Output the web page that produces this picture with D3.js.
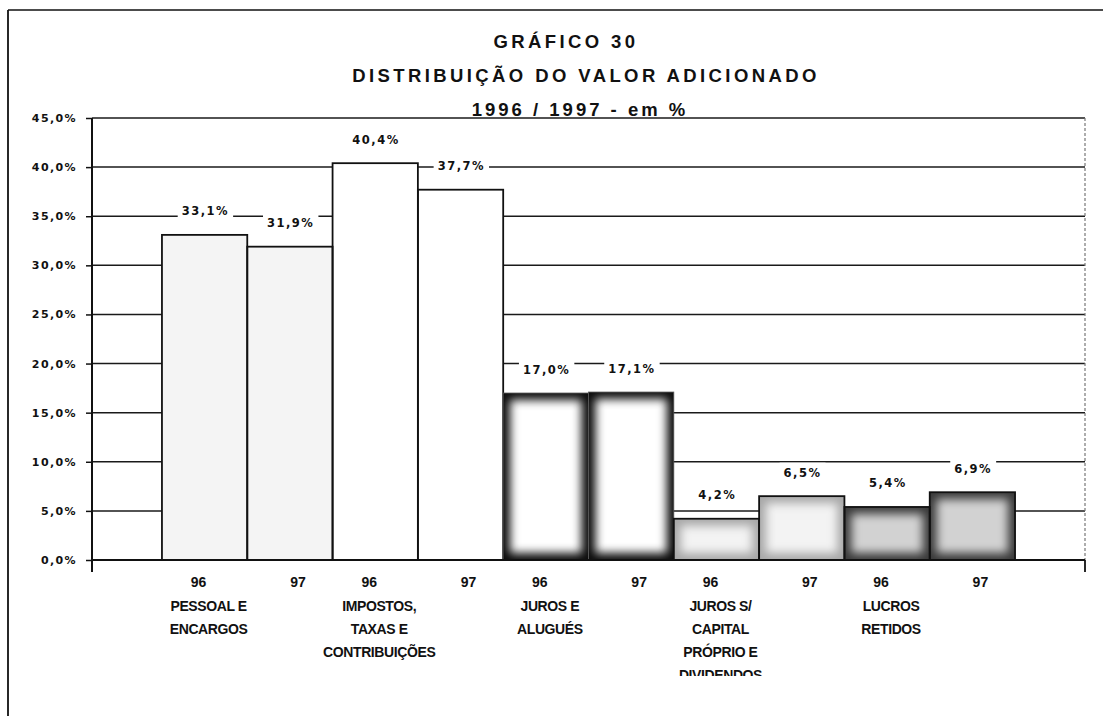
<!DOCTYPE html>
<html>
<head>
<meta charset="utf-8">
<script src="https://cdn.jsdelivr.net/npm/d3@7"></script>
<style>
  body { margin: 0; background: #fff; }
  svg { display: block; }
</style>
</head>
<body>
<svg id="chart"></svg>
<script>
const width = 1103;
const height = 716;

// data
const groupLines = [
  ["PESSOAL E", "ENCARGOS"],
  ["IMPOSTOS,", "TAXAS E", "CONTRIBUIÇÕES"],
  ["JUROS E", "ALUGUÉS"],
  ["JUROS S/", "CAPITAL", "PRÓPRIO E", "DIVIDENDOS"],
  ["LUCROS", "RETIDOS"],
];
const years = ["96", "97"];
const values96 = [33.1, 40.4, 17.0, 4.2, 5.4];
const values97 = [31.9, 37.7, 17.1, 6.5, 6.9];
const yTicks = [0, 5, 10, 15, 20, 25, 30, 35, 40, 45];
const titleLines = ["GRÁFICO 30", "DISTRIBUIÇÃO DO VALOR ADICIONADO", "1996 / 1997 - em %"];

// look of each group of bars (edge colour, centre colour)
const groupStyle = [
  { edge: "#f4f4f4", center: "#f7f7f7", blur: 0 },
  { edge: "#ffffff", center: "#ffffff", blur: 0 },
  { edge: "#0c0c0c", center: "#ffffff", blur: 5 },
  { edge: "#a8a8a8", center: "#f3f3f3", blur: 5 },
  { edge: "#3a3a3a", center: "#d2d2d2", blur: 6 },
];
const titleX = [566, 586, 580];

const bars = [];
groupLines.forEach((g, i) => {
  bars.push({ group: i, year: years[0], value: values96[i], key: i + "-96" });
  bars.push({ group: i, year: years[1], value: values97[i], key: i + "-97" });
});

const plot = { left: 92, right: 1085, top: 118, bottom: 560 };

const svg = d3.select("#chart").attr("width", width).attr("height", height);

const x = d3.scaleBand()
  .domain(bars.map((d) => d.key))
  .range([plot.left, plot.right])
  .paddingInner(0)
  .paddingOuter(0.82);

const y = d3.scaleLinear().domain([0, 45]).range([plot.bottom, plot.top]);

const fmt = (v) => d3.format(".1f")(v).replace(".", ",") + "%";

const defs = svg.append("defs");
defs.append("filter")
  .attr("id", "soft")
  .attr("x", "-30%").attr("y", "-30%")
  .attr("width", "160%").attr("height", "160%")
  .append("feGaussianBlur")
  .attr("stdDeviation", 5);

// outer frame
svg.append("line")
  .attr("x1", 8).attr("x2", width).attr("y1", 10).attr("y2", 10)
  .attr("stroke", "#111").attr("stroke-width", 1.6);
svg.append("line")
  .attr("x1", 8).attr("x2", 8).attr("y1", 10).attr("y2", height)
  .attr("stroke", "#111").attr("stroke-width", 1.8);

// title
svg.append("g")
  .selectAll("text")
  .data(titleLines)
  .enter()
  .append("text")
  .attr("x", (d, i) => titleX[i])
  .attr("y", (d, i) => 48 + i * 34)
  .attr("text-anchor", "middle")
  .attr("font-family", "Liberation Sans, Arial, sans-serif")
  .attr("font-weight", "bold")
  .attr("font-size", 18.5)
  .attr("letter-spacing", (d, i) => (i === 2 ? 3 : 3.4))
  .attr("fill", "#111")
  .text((d) => d);

// gridlines
svg.append("g")
  .selectAll("line")
  .data(yTicks.filter((t) => t > 0))
  .enter()
  .append("line")
  .attr("x1", plot.left)
  .attr("x2", plot.right)
  .attr("y1", (d) => y(d))
  .attr("y2", (d) => y(d))
  .attr("stroke", "#1a1a1a")
  .attr("stroke-width", 1.5);

// right border of the plot
svg.append("line")
  .attr("x1", plot.right).attr("x2", plot.right)
  .attr("y1", plot.top).attr("y2", plot.bottom)
  .attr("stroke", "#777").attr("stroke-width", 1.2)
  .attr("stroke-dasharray", "3,2");

// bars
const barG = svg.append("g").selectAll("g").data(bars).enter().append("g");

barG.each(function (d) {
  const g = d3.select(this);
  const st = groupStyle[d.group];
  const bx = x(d.key);
  const bw = x.bandwidth();
  const by = y(d.value);
  const bh = y(0) - by;
  const clipId = "clip" + d.key;
  defs.append("clipPath").attr("id", clipId)
    .append("rect").attr("x", bx).attr("y", by).attr("width", bw).attr("height", bh);
  g.append("rect")
    .attr("x", bx).attr("y", by).attr("width", bw).attr("height", bh)
    .attr("fill", st.edge);
  if (st.blur > 0) {
    const inset = 7;
    g.append("g").attr("clip-path", "url(#" + clipId + ")")
      .append("rect")
      .attr("x", bx + inset).attr("y", by + inset)
      .attr("width", Math.max(bw - inset * 2, 1))
      .attr("height", Math.max(bh - inset * 2, 1))
      .attr("fill", st.center)
      .attr("filter", "url(#soft)");
  }
});

// bar outlines
svg.append("g")
  .selectAll("rect")
  .data(bars)
  .enter()
  .append("rect")
  .attr("x", (d) => x(d.key))
  .attr("y", (d) => y(d.value))
  .attr("width", x.bandwidth())
  .attr("height", (d) => y(0) - y(d.value))
  .attr("fill", "none")
  .attr("stroke", (d) => (d.group === 2 ? "#555" : "#111"))
  .attr("stroke-width", (d) => (d.group === 2 ? 0.8 : 1.8));

// value labels with white boxes
const labelG = svg.append("g");
bars.forEach((d) => {
  const cx = x(d.key) + x.bandwidth() / 2;
  const ly = y(d.value) - 24;
  const t = labelG.append("text")
    .attr("x", cx + 0.8)
    .attr("y", ly + 4.5)
    .attr("text-anchor", "middle")
    .attr("font-family", "DejaVu Sans, sans-serif")
    .attr("font-weight", "bold")
    .attr("font-size", 11.5)
    .attr("letter-spacing", 1.5)
    .attr("fill", "#111")
    .text(fmt(d.value));
  const bb = t.node().getBBox();
  labelG.insert("rect", "text")
    .attr("x", bb.x - 4).attr("y", bb.y - 3)
    .attr("width", bb.width + 8).attr("height", bb.height + 6)
    .attr("fill", "#fff");
});

// axes
svg.append("line")
  .attr("x1", plot.left).attr("x2", plot.right)
  .attr("y1", plot.bottom).attr("y2", plot.bottom)
  .attr("stroke", "#111").attr("stroke-width", 2);
svg.append("line")
  .attr("x1", plot.left).attr("x2", plot.left)
  .attr("y1", plot.top).attr("y2", plot.bottom + 12)
  .attr("stroke", "#111").attr("stroke-width", 2);
svg.append("line")
  .attr("x1", plot.right).attr("x2", plot.right)
  .attr("y1", plot.bottom).attr("y2", plot.bottom + 12)
  .attr("stroke", "#111").attr("stroke-width", 1.8);

const yAxis = d3.axisLeft(y)
  .tickValues(yTicks)
  .tickSize(6)
  .tickPadding(9)
  .tickFormat((d) => fmt(d));

svg.append("g")
  .attr("transform", `translate(${plot.left},0)`)
  .call(yAxis)
  .call((g) => g.select(".domain").remove())
  .call((g) => g.selectAll("line").attr("stroke", "#111").attr("stroke-width", 1.5))
  .call((g) =>
    g.selectAll("text")
      .attr("font-family", "DejaVu Sans, sans-serif")
      .attr("font-weight", "bold")
      .attr("font-size", 11)
      .attr("letter-spacing", 1.4)
      .attr("fill", "#111")
  );

// year labels under each bar
svg.append("g")
  .selectAll("text")
  .data(bars)
  .enter()
  .append("text")
  .attr("x", (d) => x(d.key) + x.bandwidth() / 2 + (d.year === "96" ? -6 : 8))
  .attr("y", 587)
  .attr("text-anchor", "middle")
  .attr("font-family", "Liberation Sans, Arial, sans-serif")
  .attr("font-weight", "bold")
  .attr("font-size", 14)
  .attr("fill", "#111")
  .text((d) => d.year);

// group names, centred under the 96 bar
defs.append("clipPath").attr("id", "catclip")
  .append("rect").attr("x", 0).attr("y", 590).attr("width", width).attr("height", 86);

const catG = svg.append("g").attr("clip-path", "url(#catclip)");
groupLines.forEach((lines, i) => {
  const cx = x(i + "-96") + x.bandwidth() / 2 + 4;
  catG.append("text")
    .attr("text-anchor", "middle")
    .attr("font-family", "Liberation Sans, Arial, sans-serif")
    .attr("font-weight", "bold")
    .attr("font-size", 14)
    .attr("letter-spacing", -0.4)
    .attr("fill", "#111")
    .selectAll("tspan")
    .data(lines)
    .enter()
    .append("tspan")
    .attr("x", cx)
    .attr("y", (d, j) => 611 + j * 23)
    .text((d) => d);
});
</script>
</body>
</html>
